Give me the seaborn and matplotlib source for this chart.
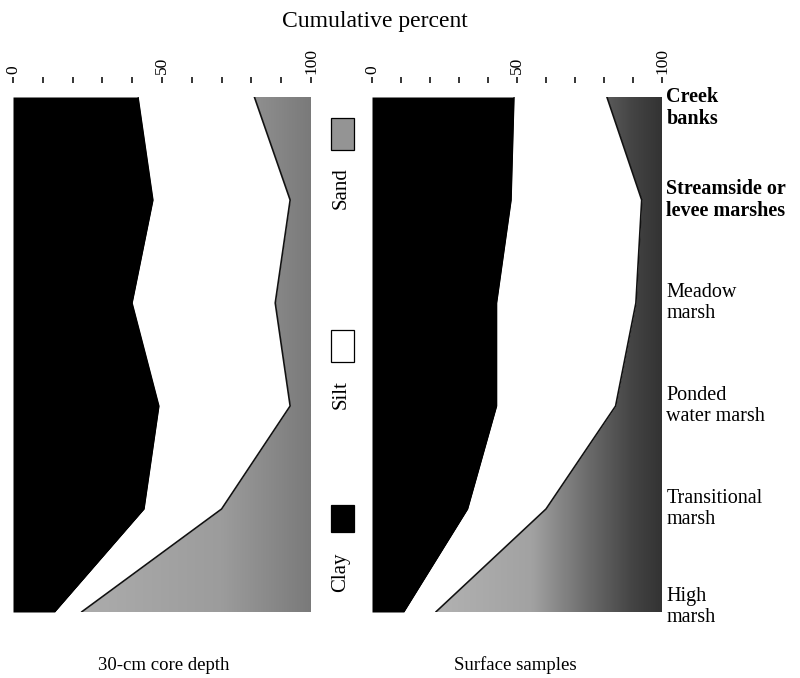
import numpy as np
import matplotlib
matplotlib.use("Agg")
import matplotlib.pyplot as plt
import seaborn as sns
from matplotlib.patches import Rectangle
from matplotlib.colors import LinearSegmentedColormap

# Habitat zones, from the creek edge (top) to the high marsh (bottom)
habitats = ["Creek\nbanks", "Streamside or\nlevee marshes", "Meadow\nmarsh",
            "Ponded\nwater marsh", "Transitional\nmarsh", "High\nmarsh"]

# Grain-size composition (%) in 30-cm cores
core_clay = [42, 47, 40, 49, 44, 14]
core_silt = [39, 46, 48, 44, 26, 9]
core_sand = [19, 7, 12, 7, 30, 77]

# Grain-size composition (%) in surface samples
surface_clay = [49, 48, 43, 43, 33, 11]
surface_silt = [32, 45, 48, 41, 27, 11]
surface_sand = [19, 7, 9, 16, 40, 78]

panel_titles = ["30-cm core depth", "Surface samples"]
legend_labels = ["Sand", "Silt", "Clay"]
tick_values = list(range(0, 101, 10))
tick_labels = ["0", "", "", "", "", "50", "", "", "", "", "100"]

sns.set_theme(style="white")
plt.rcParams["font.family"] = ["Liberation Serif", "DejaVu Serif"]
plt.rcParams["text.color"] = "black"
plt.rcParams["xtick.color"] = "black"
plt.rcParams["xtick.labelcolor"] = "black"

W, H = 800, 678
fig = plt.figure(figsize=(W / 100, H / 100), dpi=100)


def fx(px):
    return px / W


def fy(py):
    return 1 - py / H


ax_core = fig.add_axes([fx(13), fy(612), fx(298), 515 / H])
ax_surf = fig.add_axes([fx(372), fy(612), fx(290), 515 / H])

sand_left = LinearSegmentedColormap.from_list(
    "sand_core", [(0, "#b4b4b4"), (0.7, "#9c9c9c"), (1, "#7a7a7a")])
sand_right = LinearSegmentedColormap.from_list(
    "sand_surf", [(0, "#bcbcbc"), (0.55, "#a2a2a2"), (0.75, "#6a6a6a"),
                  (0.9, "#444444"), (1, "#333333")])


def draw_panel(ax, clay, silt, sand, cmap):
    pos = np.arange(len(habitats))
    clay_top = np.asarray(clay, float)
    silt_top = clay_top + np.asarray(silt, float)
    sand_top = silt_top + np.asarray(sand, float)

    ax.fill_betweenx(pos, 0, clay_top, color="black", lw=0, zorder=1)
    ax.fill_betweenx(pos, clay_top, silt_top, color="white", lw=0, zorder=1)
    sand_poly = ax.fill_betweenx(pos, silt_top, sand_top, facecolor="none",
                                 lw=0, zorder=1)
    grad = np.linspace(0, 1, 256).reshape(1, -1)
    im = ax.imshow(grad, extent=[0, 100, pos[-1], pos[0]], aspect="auto",
                   cmap=cmap, vmin=0, vmax=1, zorder=0.5,
                   interpolation="bilinear")
    im.set_clip_path(sand_poly.get_paths()[0], ax.transData)

    # boundaries between the size classes
    sns.lineplot(x=silt_top, y=pos, orient="y", sort=False, color="#111111",
                 lw=1.2, ax=ax, zorder=2)
    sns.lineplot(x=clay_top, y=pos, orient="y", sort=False, color="black",
                 lw=0.8, ax=ax, zorder=2)

    ax.set_xlim(0, 100)
    ax.set_ylim(pos[-1], pos[0])
    ax.set_xlabel("")
    ax.set_ylabel("")
    ax.set_yticks([])
    ax.xaxis.tick_top()
    ax.set_xticks(tick_values, tick_labels)
    ax.tick_params(axis="x", top=True, bottom=False, labeltop=True,
                   labelbottom=False, direction="out", length=4.5,
                   width=1.1, color="black", labelcolor="black", pad=2,
                   labelrotation=90, labelsize=12.5)
    for side in ["left", "right", "bottom"]:
        ax.spines[side].set_visible(False)
    ax.spines["top"].set_position(("outward", 10))
    ax.spines["top"].set_visible(False)
    ax.grid(False)


draw_panel(ax_core, core_clay, core_silt, core_sand, sand_left)
draw_panel(ax_surf, surface_clay, surface_silt, surface_sand, sand_right)

# habitat names along the right edge
label_y = [0.11, 1, 2, 3, 4, 4.95]
for i, (name, yv) in enumerate(zip(habitats, label_y)):
    ax_surf.text(101.5, yv, name, ha="left", va="center", fontsize=14.5,
                 fontweight="bold" if i < 2 else "normal", color="black",
                 linespacing=1.12, transform=ax_surf.transData, clip_on=False)

# legend between the panels
swatches = [(118, 150, "#949494"), (330, 362, "white"), (505, 532, "black")]
text_y = [188, 395, 572]
for (top, bot, col), lab, ty in zip(swatches, legend_labels, text_y):
    fig.add_artist(Rectangle((fx(331), fy(bot)), fx(23), (bot - top) / H,
                             facecolor=col, edgecolor="black", lw=0.9,
                             transform=fig.transFigure))
    fig.text(fx(341), fy(ty), lab, rotation=90, ha="center", va="center",
             fontsize=15, color="black")

fig.text(fx(375), fy(22), "Cumulative percent", ha="center", va="center",
         fontsize=17, color="black")
fig.text(fx(164), fy(665), panel_titles[0], ha="center", va="center",
         fontsize=13.5, color="black")
fig.text(fx(515), fy(665), panel_titles[1], ha="center", va="center",
         fontsize=13.5, color="black")

fig.savefig("out.png", dpi=100)
